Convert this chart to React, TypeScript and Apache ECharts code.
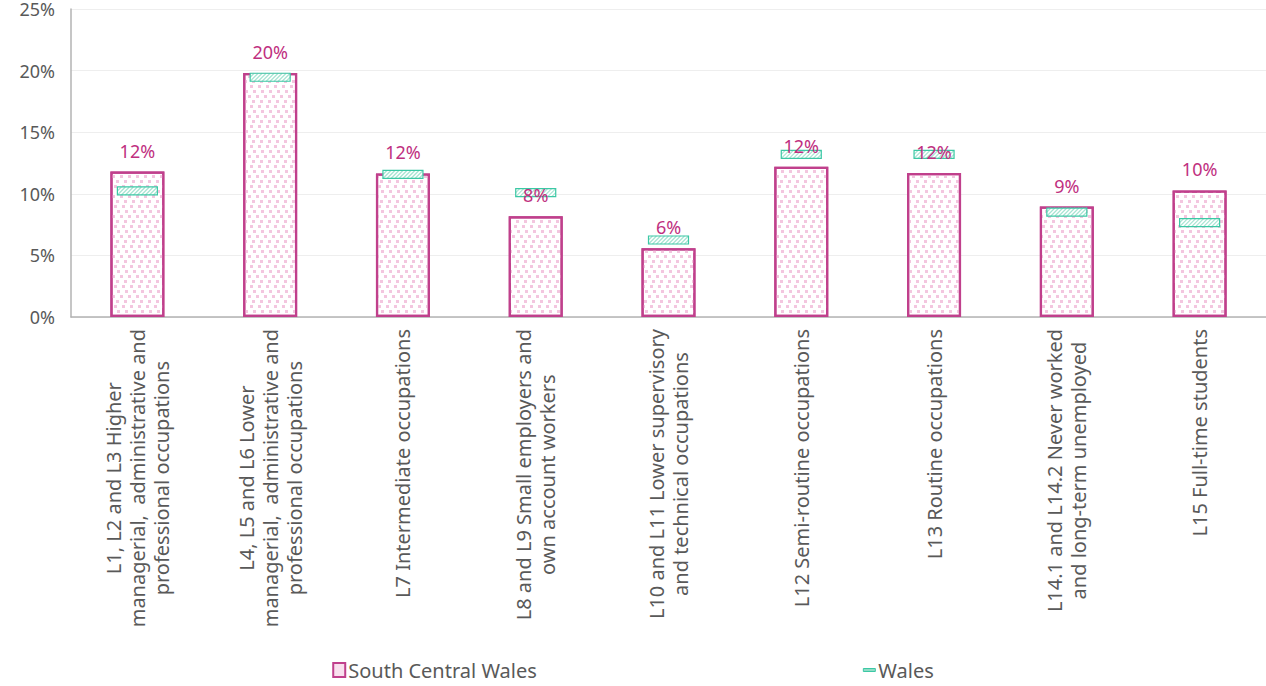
import React, { useEffect, useRef } from "react";
import * as echarts from "echarts";

const categories = [
  "L1, L2 and L3 Higher\nmanagerial,  administrative and\nprofessional occupations",
  "L4, L5 and L6 Lower\nmanagerial,  administrative and\nprofessional occupations",
  "L7 Intermediate occupations",
  "L8 and L9 Small employers and\nown account workers",
  "L10 and L11 Lower supervisory\nand technical occupations",
  "L12 Semi-routine occupations",
  "L13 Routine occupations",
  "L14.1 and L14.2 Never worked\nand long-term unemployed",
  "L15 Full-time students",
];
const southCentralWales = [11.8, 19.8, 11.65, 8.17, 5.58, 12.2, 11.68, 8.96, 10.27];
const wales = [10.23, 19.46, 11.57, 10.1, 6.25, 13.2, 13.2, 8.52, 7.66];
const yTicks = [0, 5, 10, 15, 20, 25];

const FONT = "'Noto Sans', sans-serif";
const MAGENTA = "#C0408C";
const TEAL = "#3CC8A5";

export default function App() {
  const ref = useRef<HTMLDivElement>(null);
  useEffect(() => {
    const chart = echarts.init(ref.current!, null, { renderer: "svg" });
    chart.setOption({
      animation: false,
      textStyle: { fontFamily: FONT },
      grid: { left: 71, top: 8, right: -3, bottom: 369, containLabel: false },
      legend: {
        left: "center",
        top: 655,
        itemGap: 326,
        itemWidth: 12,
        itemHeight: 14,
        textStyle: { fontSize: 20, color: "#595959", fontFamily: FONT, padding: [0, 0, 0, -2] },
        data: [
          {
            name: "South Central Wales",
            icon: "rect",
            itemStyle: { color: "#f9e0ee", borderColor: MAGENTA, borderWidth: 2, decal: "none" },
          },
          {
            name: "Wales",
            icon: "path://M0,0H20V5H0Z",
            itemStyle: { color: "#8fdcc5", borderColor: TEAL, borderWidth: 1, decal: "none" },
          },
        ],
      },
      xAxis: {
        type: "category",
        data: categories,
        axisLine: { show: true, lineStyle: { color: "#b3b3b3", width: 1.5 } },
        axisTick: { show: false },
        axisLabel: {
          interval: 0,
          rotate: 90,
          margin: 12,
          formatter: (v: string) =>
            v.split("\n").map((l) => `{c|${l}}`).join("\n"),
          rich: {
            c: { align: "center", fontSize: 20, lineHeight: 24, color: "#595959", fontFamily: FONT },
          },
        },
      },
      yAxis: {
        type: "value",
        min: yTicks[0],
        max: yTicks[yTicks.length - 1],
        interval: 5,
        axisLine: { show: true, lineStyle: { color: "#b3b3b3", width: 1.5 } },
        axisTick: { show: false },
        splitLine: { lineStyle: { color: "#eeeeee", width: 1 } },
        axisLabel: { formatter: "{value}%", fontSize: 18, color: "#595959", margin: 16, fontFamily: FONT },
      },
      series: [
        {
          name: "South Central Wales",
          type: "bar",
          data: southCentralWales,
          barWidth: 54,
          barGap: "-100%",
          z: 2,
          itemStyle: {
            color: "#ffffff",
            borderColor: MAGENTA,
            borderWidth: 2.2,
            decal: {
              symbol: "rect",
              symbolSize: 1,
              color: "#f3c6df",
              dashArrayX: [[3, 5], [0, 4, 3, 1], [0, 2, 3, 3], [0, 5, 3, 0]],
              dashArrayY: [3, 2],
              rotation: 0,
            },
          },
        },
        {
          name: "Wales",
          type: "custom",
          data: wales.map((v, i) => [i, v]),
          z: 3,
          itemStyle: { color: "#d2f2e8", borderColor: TEAL },
          renderItem: (params: any, api: any) => {
            const p = api.coord([api.value(0), api.value(1)]);
            const w = 40;
            const h = 8;
            const x0 = p[0] - w / 2;
            const y0 = p[1] - h / 2;
            const stripes: any[] = [];
            for (let k = 0; k < w + h; k += 4) {
              const xa = x0 + k;
              const xb = xa - h;
              stripes.push({
                type: "line",
                shape: {
                  x1: Math.min(xa, x0 + w),
                  y1: y0 + (xa > x0 + w ? xa - (x0 + w) : 0),
                  x2: Math.max(xb, x0),
                  y2: y0 + h - (xb < x0 ? x0 - xb : 0),
                },
                style: { stroke: "#a6e4d2", lineWidth: 1.2 },
              });
            }
            return {
              type: "group",
              children: [
                { type: "rect", shape: { x: x0, y: y0, width: w, height: h }, style: { fill: "#ffffff" } },
                ...stripes,
                {
                  type: "rect",
                  shape: { x: x0, y: y0, width: w, height: h },
                  style: { fill: "none", stroke: TEAL, lineWidth: 1.2 },
                },
              ],
            };
          },
        },
        {
          name: "labels",
          type: "bar",
          data: southCentralWales,
          barWidth: 54,
          barGap: "-100%",
          z: 5,
          silent: true,
          itemStyle: { color: "rgba(0,0,0,0)", borderWidth: 0 },
          label: {
            show: true,
            position: "top",
            distance: 12,
            fontSize: 18,
            color: "#C0307F",
            fontFamily: FONT,
            formatter: (p: any) => Math.round(p.value) + "%",
          },
        },
      ],
    });
    return () => chart.dispose();
  }, []);
  return <div ref={ref} style={{ width: 1266, height: 686, position: "absolute", left: 0, top: 0 }} />;
}
